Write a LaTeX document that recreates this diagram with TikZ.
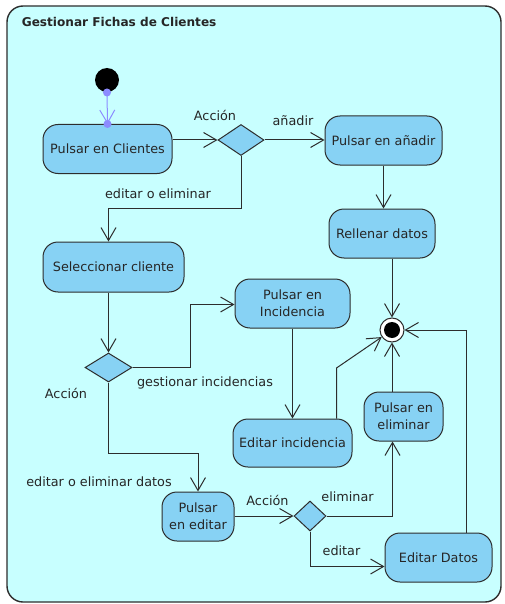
\documentclass[tikz,border=0pt]{standalone}
\usepackage{fontspec}
\setmainfont{DejaVu Sans}
\usepackage{xcolor}
\usetikzlibrary{arrows.meta, positioning, calc, shapes.geometric}
\definecolor{fondo}{RGB}{200,255,255}
\definecolor{accion}{RGB}{135,210,244}
\definecolor{inicio}{RGB}{140,140,255}
\definecolor{borde}{RGB}{45,45,45}

\begin{document}
\begin{tikzpicture}[x=1pt, y=-1pt, line width=1pt,
    every node/.style={font=\fontsize{12.8}{17}\selectfont, text=black!85},
    act/.style={rectangle, rounded corners=15pt, draw=borde, fill=accion, align=center,
        inner sep=0pt, minimum height=49pt},
    dec/.style={diamond, draw=borde, fill=accion, inner sep=0pt},
    flujo/.style={draw=borde, -{Straight Barb[length=13pt, width=15pt]}}]
    \useasboundingbox (0,0) rectangle (505,604);
    \draw[borde, fill=fondo, line width=1.4pt, rounded corners=16pt] (7,6) rectangle (501,602);
    \node[anchor=base west, font=\fontsize{12.1}{15}\bfseries] (titulo) at (18,27) {Gestionar Fichas de Clientes};

    \node[circle, fill=black, minimum size=24pt, inner sep=0pt] (ini) at (107,80) {};
    \node[act, minimum width=129pt] (clientes) at (107.5,149) {Pulsar en Clientes};
    \node[dec, minimum width=46pt, minimum height=31pt] (d1) at (241,140) {};
    \node[act, minimum width=117pt] (anadir) at (383.5,140.5) {Pulsar en añadir};
    \node[act, minimum width=106pt] (rellenar) at (382,233.5) {Rellenar datos};
    \node[act, minimum width=141pt, minimum height=50pt] (selec) at (113.5,267) {Seleccionar cliente};
    \node[dec, minimum width=47pt, minimum height=29pt] (d2) at (108.5,367.5) {};
    \node[act, minimum width=115pt] (incid) at (292.5,303.5) {Pulsar en\\Incidencia};
    \node[act, minimum width=119pt, minimum height=48pt] (editinc) at (292.5,443) {Editar incidencia};
    \node[circle, draw=borde, fill=white, minimum size=24pt, inner sep=0pt] (fin) at (392,330) {};
    \fill (fin) circle (8);
    \node[act, minimum width=79pt] (elim) at (403.5,416.5) {Pulsar en\\eliminar};
    \node[act, minimum width=72pt] (editar) at (198,516.5) {Pulsar\\en editar};
    \node[dec, minimum width=32pt, minimum height=30pt] (d3) at (310,516) {};
    \node[act, minimum width=107pt] (datos) at (438.5,557.5) {Editar Datos};

    \coordinate (c1) at (108.5,208.5);
    \coordinate (c2) at (190.5,304.5);
    \coordinate (c3) at (336.5,368);
    \coordinate (c4) at (466.5,330);
    \coordinate (c5) at (198,453.5);
    \coordinate (c6) at (392.5,516);
    \coordinate (c7) at (310,566.5);

    \draw[flujo, draw=inicio] (ini.south) -- (clientes.north);
    \fill[inicio] (ini.south) circle (4) (clientes.north) circle (4);
    \draw[flujo] (clientes.east |- d1.west) -- (d1.west);
    \draw[flujo] (d1.east) -- (anadir.west |- d1.east);
    \draw[flujo] (anadir.south) -- (anadir.south |- rellenar.north);
    \draw[flujo] (d1.south) |- (c1) -- (c1 |- selec.north);
    \draw[flujo] (d2 |- selec.south) -- (d2.north);
    \draw[flujo] (d2.east) -| (c2) -- (c2 -| incid.west);
    \draw[flujo] (incid.south) -- (editinc.north);
    \draw[flujo] (c3 |- editinc.north) -- (c3) -- (fin);
    \draw[flujo] (fin |- rellenar.south) -- (fin.north);
    \draw[flujo] (fin |- elim.north) -- (fin.south);
    \draw[flujo] (c4 |- datos.north) -- (c4) -- (fin.east);
    \draw[flujo] (d2.south) |- (c5) -- (editar.north);
    \draw[flujo] (editar.east |- d3.west) -- (d3.west);
    \draw[flujo] (d3.east) -- (c6) -- (c6 |- elim.south);
    \draw[flujo] (d3.south) -- (c7) -- (c7 -| datos.west);

    \node (l1) at (215,115) {Acción};
    \node (l2) at (293,121) {añadir};
    \node (l3) at (158,194) {editar o eliminar};
    \node (l4) at (66,393) {Acción};
    \node (l5) at (205,383) {gestionar incidencias};
    \node (l6) at (99,482) {editar o eliminar datos};
    \node (l7) at (267.5,500) {Acción};
    \node (l8) at (347.5,497) {eliminar};
    \node (l9) at (341.5,551) {editar};
\end{tikzpicture}
\end{document}
